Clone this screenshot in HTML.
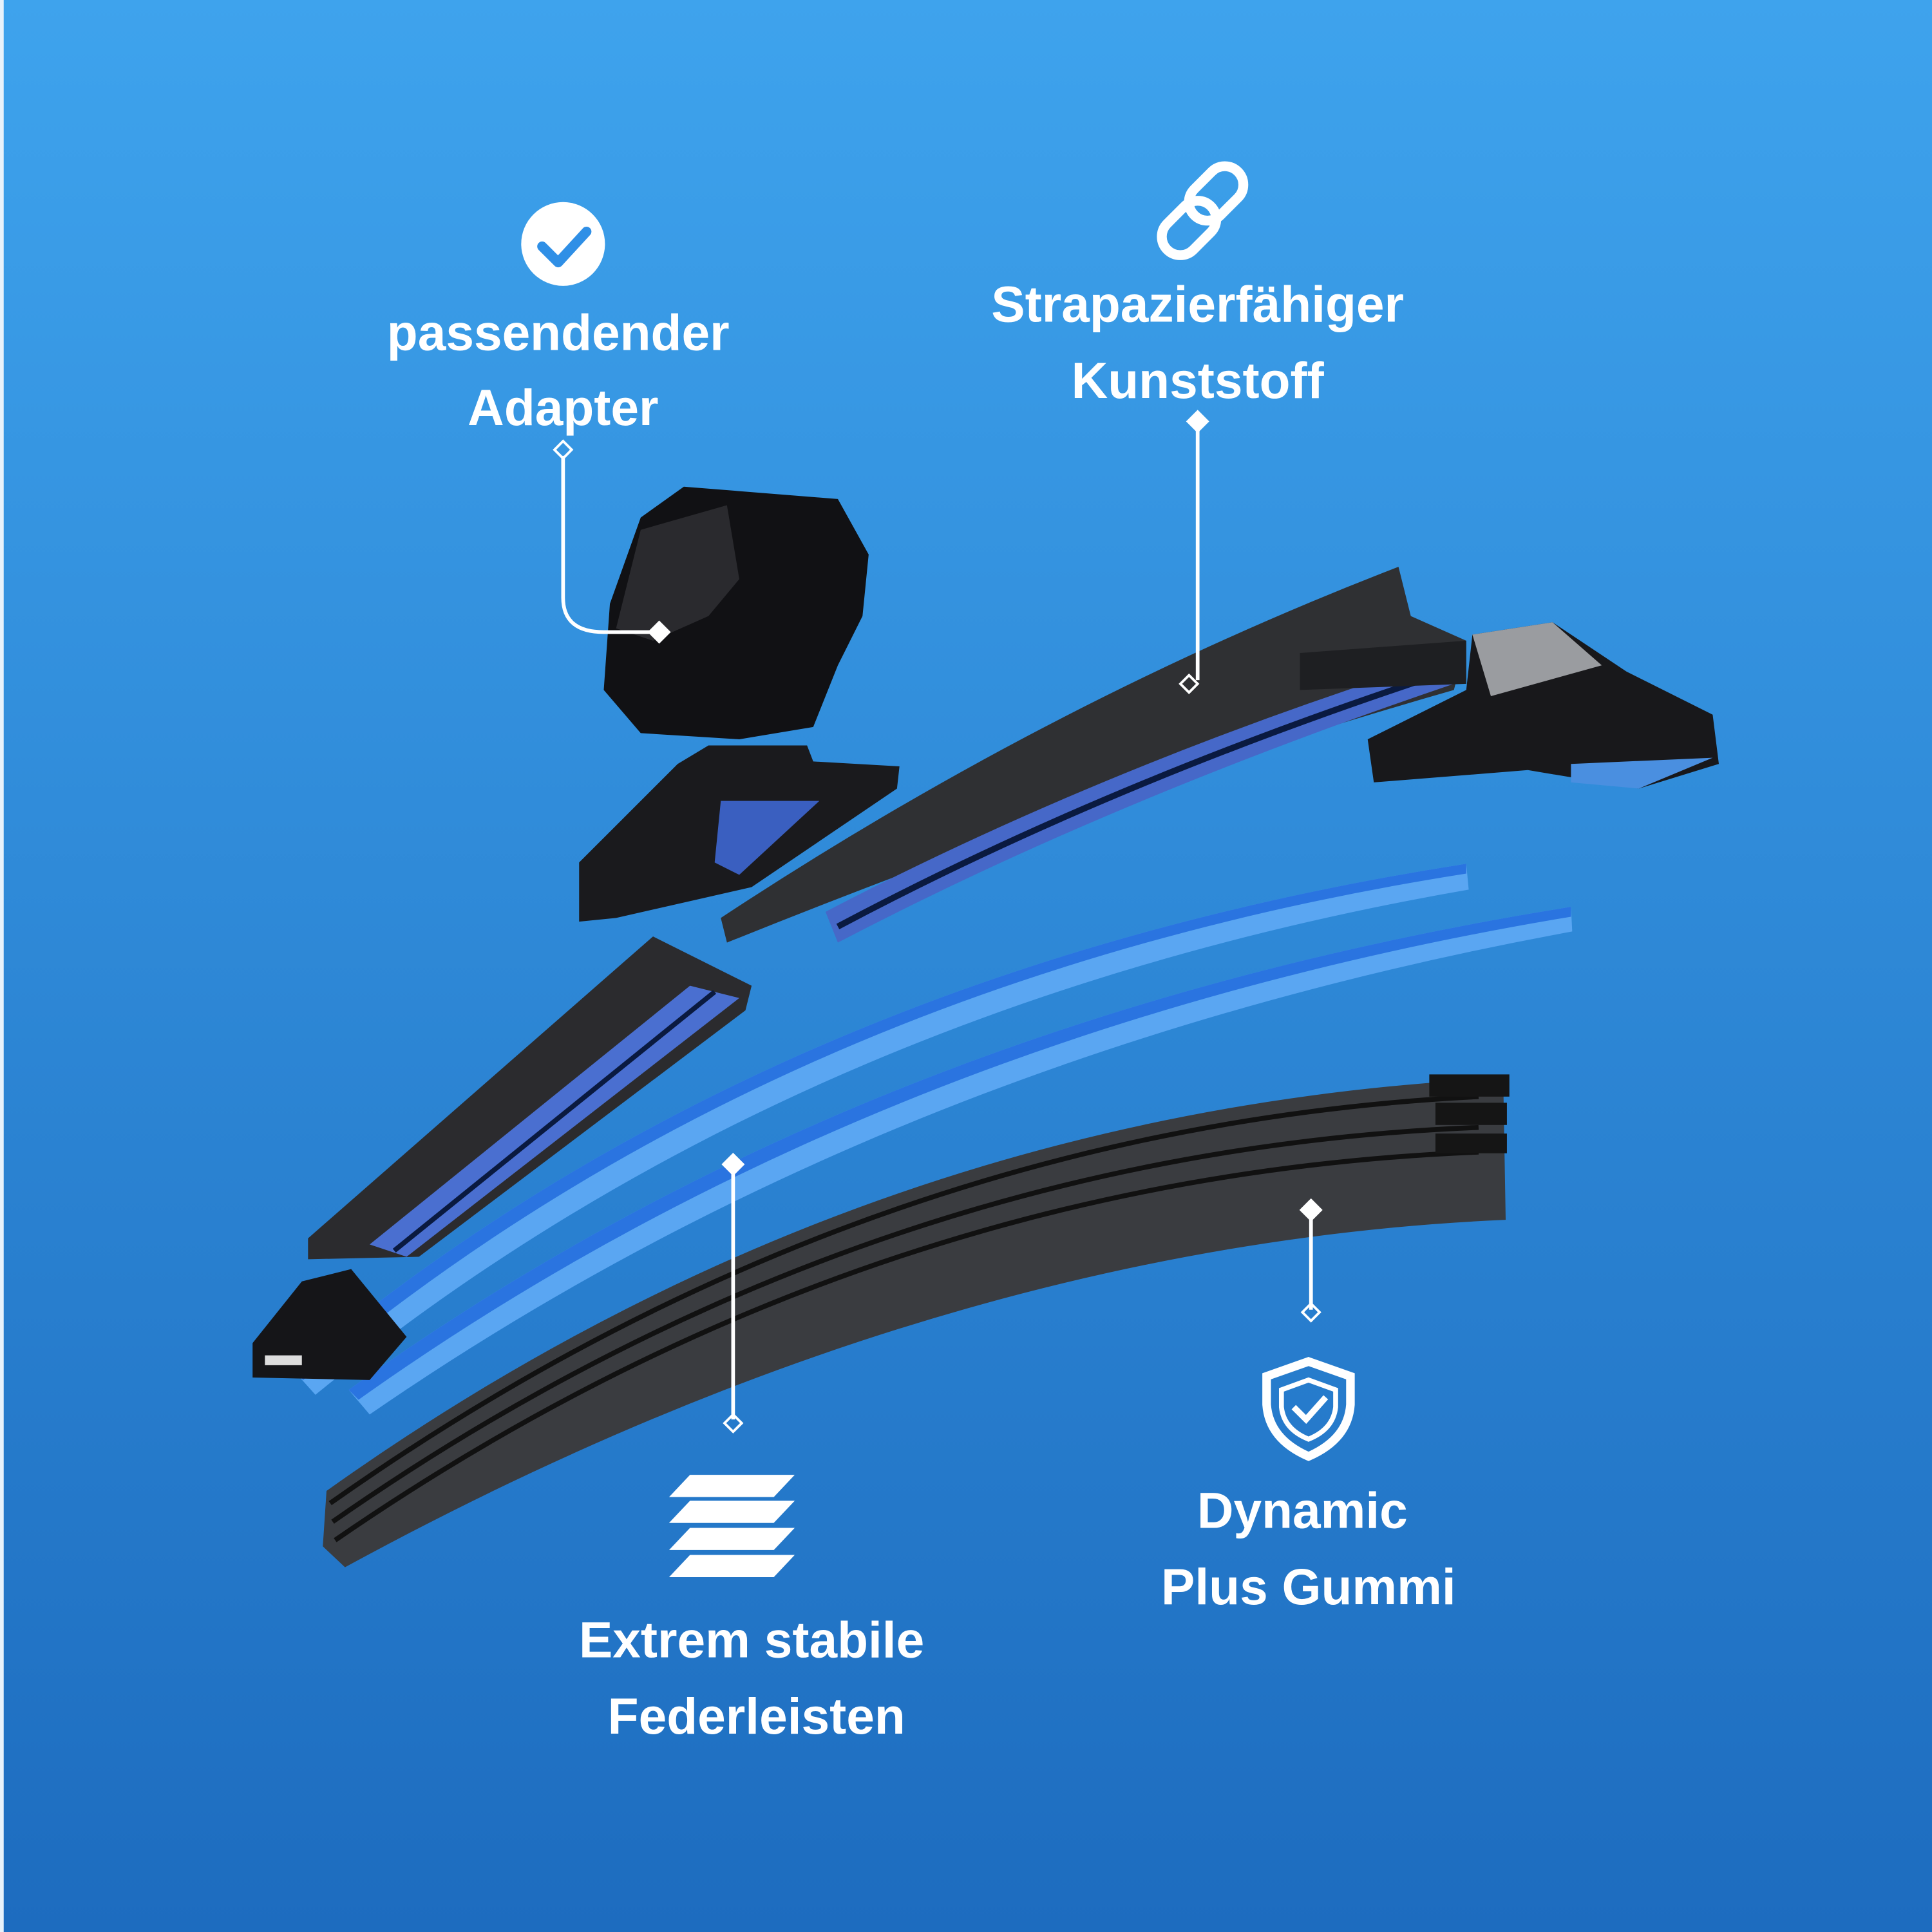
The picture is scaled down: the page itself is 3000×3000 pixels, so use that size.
<!DOCTYPE html>
<html><head><meta charset="utf-8"><style>
html,body{margin:0;padding:0;width:3000px;height:3000px;overflow:hidden}
svg{display:block}
text{font-family:"Liberation Sans",sans-serif;font-weight:bold;fill:#fff;font-size:41px;text-anchor:middle}
</style></head><body>
<svg width="3000" height="3000" viewBox="0 0 1568 1568" xmlns="http://www.w3.org/2000/svg">
<defs>
<linearGradient id="bg" x1="0" y1="0" x2="0" y2="1">
<stop offset="0" stop-color="#3ea3ed"/><stop offset="1" stop-color="#1d6cbf"/></linearGradient>
</defs>
<rect width="1568" height="1568" fill="url(#bg)"/>
<rect width="3" height="1568" fill="#e8f2fb"/>

<!-- rubber -->
<path d="M265,1210 Q700,900 1220,875 L1222,990 Q760,1010 280,1272 L262,1255 Z" fill="#3a3c40"/>
<path d="M268,1220 Q700,915 1200,890" stroke="#111" stroke-width="4" fill="none"/>
<path d="M270,1235 Q700,935 1200,915" stroke="#111" stroke-width="4" fill="none"/>
<path d="M272,1250 Q700,955 1200,935" stroke="#111" stroke-width="4" fill="none"/>
<rect x="1160" y="872" width="65" height="18" fill="#151515"/>
<rect x="1165" y="895" width="58" height="18" fill="#151515"/>
<rect x="1165" y="920" width="58" height="16" fill="#151515"/>

<!-- blue springs -->
<path d="M238,1112 Q620,790 1190,701 L1192,722 Q640,818 256,1132 Z" fill="#5aa6f2"/>
<path d="M238,1112 Q620,790 1190,701 L1190,709 Q630,797 246,1120 Z" fill="#2a74e0"/>
<path d="M283,1128 Q700,828 1275,736 L1276,756 Q720,858 300,1148 Z" fill="#5aa6f2"/>
<path d="M283,1128 Q700,828 1275,736 L1275,744 Q710,838 291,1136 Z" fill="#2a74e0"/>

<!-- left frame -->
<path d="M250,1005 L530,760 L610,800 L605,820 L340,1020 L250,1022 Z" fill="#2b2b2e"/>
<path d="M300,1010 L560,800 L600,810 L330,1020 Z" fill="#4a6fd0"/>
<path d="M320,1015 L580,805" stroke="#0a1a40" stroke-width="4"/>
<!-- left end cap -->
<path d="M205,1090 L245,1040 L285,1030 L330,1085 L300,1120 L205,1118 Z" fill="#151518"/>
<rect x="215" y="1100" width="30" height="8" fill="#ddd"/>

<!-- main frame -->
<path d="M585,745 Q850,570 1135,460 L1145,500 L1190,520 L1180,560 Q900,640 590,765 Z" fill="#2f3033"/>
<path d="M670,740 Q900,620 1170,535 L1180,555 Q900,650 680,765 Z" fill="#4668c8"/>
<path d="M680,752 Q900,635 1175,545" stroke="#0a1a40" stroke-width="5" fill="none"/>
<path d="M1055,530 L1190,520 L1190,555 L1055,560 Z" fill="#1e1f22"/>

<!-- end cap right -->
<path d="M1110,600 L1190,560 L1195,515 L1260,505 L1320,545 L1390,580 L1395,620 L1330,640 L1240,625 L1115,635 Z" fill="#18181b"/>
<path d="M1195,515 L1260,505 L1300,540 L1210,565 Z" fill="#9a9ca0"/>
<path d="M1275,620 L1390,615 L1330,640 L1275,635 Z" fill="#4a8fe0"/>

<!-- adapter -->
<path d="M520,420 L555,395 L680,405 L705,450 L700,500 L680,540 L660,590 L600,600 L520,595 L490,560 L495,490 Z" fill="#111114"/>
<path d="M520,430 L590,410 L600,470 L575,500 L530,520 L500,510 Z" fill="#2a2a2e"/>
<!-- connector piece -->
<path d="M470,700 L550,620 L575,605 L655,605 L660,618 L730,622 L728,640 L610,720 L500,745 L470,748 Z" fill="#1a1a1d"/>
<path d="M585,650 L665,650 L600,710 L580,700 Z" fill="#3a5fc0"/>

<!-- connectors -->
<g stroke="#fff" stroke-width="3" fill="none">
<path d="M457,370 L457,485 Q457,513 490,513 L535,513"/>
<path d="M972,345 L972,552"/>
<path d="M595,945 L595,1152"/>
<path d="M1064,982 L1064,1063"/>
</g>
<g fill="#fff" stroke="#fff" stroke-width="2">
<path d="M457,358 l7,7 l-7,7 l-7,-7 z" fill="none"/>
<path d="M535,505 l8,8 l-8,8 l-8,-8 z"/>
<path d="M972,334 l8,8 l-8,8 l-8,-8 z"/>
<path d="M965,548 l7,7 l-7,7 l-7,-7 z" fill="none"/>
<path d="M595,937 l8,8 l-8,8 l-8,-8 z"/>
<path d="M595,1148 l7,7 l-7,7 l-7,-7 z" fill="none"/>
<path d="M1064,974 l8,8 l-8,8 l-8,-8 z"/>
<path d="M1064,1058 l7,7 l-7,7 l-7,-7 z" fill="none"/>
</g>

<!-- icons -->
<circle cx="457" cy="198" r="34" fill="#fff"/>
<path d="M440,200 L453,213 L476,188" stroke="#2f8fe6" stroke-width="8" fill="none" stroke-linecap="round" stroke-linejoin="round"/>
<g stroke="#fff" stroke-width="8" fill="none">
<rect x="950" y="160" width="30" height="50" rx="15" transform="rotate(45 965 185)"/>
<rect x="972" y="132" width="30" height="50" rx="15" transform="rotate(45 987 157)"/>
</g>
<g fill="#fff">
<path d="M560,1197 L645,1197 L628,1215 L543,1215 Z"/>
<path d="M560,1218 L645,1218 L628,1236 L543,1236 Z"/>
<path d="M560,1240 L645,1240 L628,1258 L543,1258 Z"/>
<path d="M560,1262 L645,1262 L628,1280 L543,1280 Z"/>
</g>
<path d="M1062,1105 L1096,1117 L1096,1140 Q1094,1168 1062,1182 Q1030,1168 1028,1140 L1028,1117 Z" fill="none" stroke="#fff" stroke-width="7"/>
<path d="M1062,1120 L1084,1128 L1084,1142 Q1082,1160 1062,1168 Q1042,1160 1040,1142 L1040,1128 Z" fill="none" stroke="#fff" stroke-width="4"/>
<path d="M1050,1142 L1060,1152 L1076,1134" stroke="#fff" stroke-width="5" fill="none"/>

<!-- labels -->
<text x="453" y="284">passendender</text>
<text x="457" y="345">Adapter</text>
<text x="972" y="261">Strapazierfähiger</text>
<text x="972" y="323">Kunststoff</text>
<text x="610" y="1345">Extrem stabile</text>
<text x="614" y="1407">Federleisten</text>
<text x="1057" y="1240">Dynamic</text>
<text x="1062" y="1302">Plus Gummi</text>
</svg>
</body></html>
